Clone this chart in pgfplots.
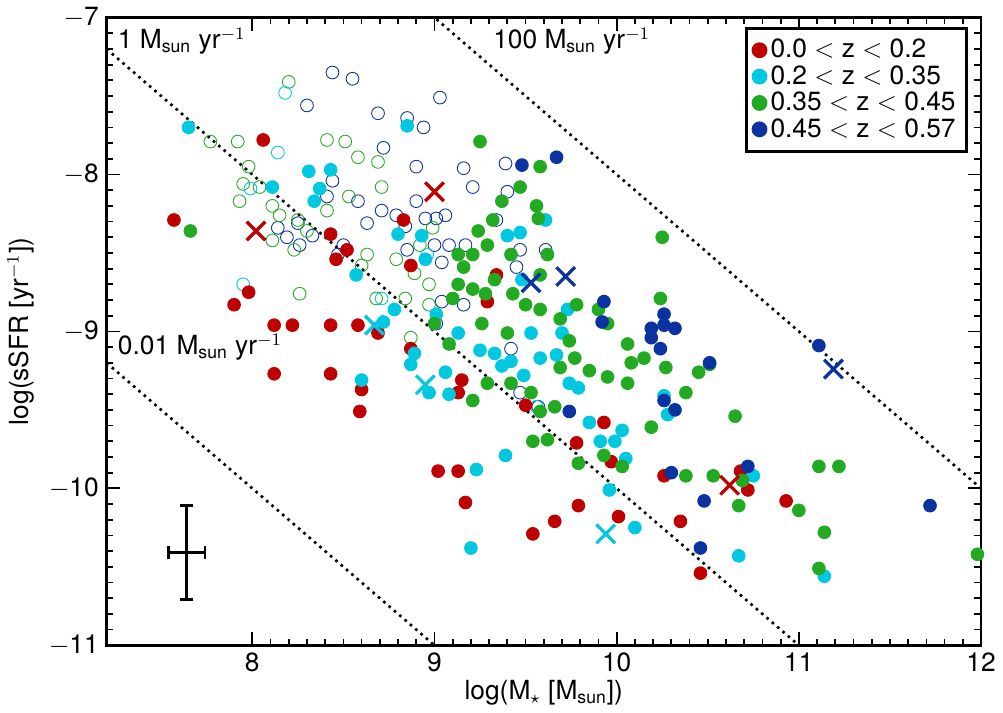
\documentclass[border=0pt]{standalone}
\usepackage{pgfplots}
\pgfplotsset{compat=1.18}
\usepackage{fontspec}
\setmainfont{TeX Gyre Heros}
\definecolor{cr}{RGB}{190,0,0}
\definecolor{cc}{RGB}{0,200,225}
\definecolor{cg}{RGB}{35,170,35}
\definecolor{cb}{RGB}{10,50,160}
\begin{document}
\begin{tikzpicture}
\begin{axis}[scale only axis, width=14cm, height=10.05cm,
 xmin=7.2, xmax=12, ymin=-11, ymax=-7,
 xtick={8,9,10,11,12}, ytick={-11,-10,-9,-8,-7},
 yticklabels={$-$11,$-$10,$-$9,$-$8,$-$7},
 minor x tick num=9, minor y tick num=9,
 tick align=inside, major tick length=6pt, minor tick length=3pt,
 axis line style={line width=1.2pt}, every tick/.style={black,line width=0.8pt},
 /pgf/number format/assume math mode=true,
 tick label style={font=\large}, label style={font=\large},
 xlabel={log(M$_\star$ [M$_{\mathrm{sun}}$])}, ylabel={log(sSFR [yr$^{-1}$])},
 xlabel style={yshift=3pt},
 clip=true,
 legend style={at={(0.985,0.985)}, anchor=north east, draw=black, line width=1.2pt, font=\large, row sep=-2pt, inner sep=3pt},
 legend cell align=left]
\addlegendimage{only marks, mark=*, cr, mark size=3pt}\addlegendentry{0.0 $<$ z $<$ 0.2}
\addlegendimage{only marks, mark=*, cc, mark size=3pt}\addlegendentry{0.2 $<$ z $<$ 0.35}
\addlegendimage{only marks, mark=*, cg, mark size=3pt}\addlegendentry{0.35 $<$ z $<$ 0.45}
\addlegendimage{only marks, mark=*, cb, mark size=3pt}\addlegendentry{0.45 $<$ z $<$ 0.57}
\addplot[dotted, line width=1.2pt, domain=7.2:12, samples=2, forget plot] {-x};
\addplot[dotted, line width=1.2pt, domain=7.2:12, samples=2, forget plot] {2-x};
\addplot[dotted, line width=1.2pt, domain=7.2:12, samples=2, forget plot] {-2-x};
% open circles
\addplot[only marks, mark=o, mark size=2.9pt, cb, forget plot] coordinates {
(8.44,-7.35)(8.55,-7.39)(8.30,-7.56)(8.69,-7.61)(8.85,-7.64)(9.03,-7.51)(8.94,-7.70)(8.90,-7.95)(8.72,-7.83)
(8.90,-8.17)(8.95,-8.28)(9.01,-8.28)(9.06,-8.26)(9.16,-7.96)(9.21,-8.08)(9.39,-7.93)(9.40,-8.11)(9.34,-8.29)
(9.47,-8.48)(9.45,-8.59)(9.00,-8.45)(9.08,-8.45)(9.04,-8.56)(9.17,-8.45)(8.58,-8.17)(8.44,-8.04)(8.41,-8.14)
(8.71,-8.23)(8.79,-8.26)(8.84,-8.33)(8.85,-8.48)(9.04,-8.81)(9.01,-8.95)(9.16,-8.83)(9.42,-9.11)(9.57,-9.48)
(9.47,-9.39)(8.25,-8.31)(8.33,-8.39)(8.26,-8.45)(8.19,-8.40)(8.47,-8.51)(8.50,-8.45)(8.63,-8.31)(9.61,-8.48)(8.14,-8.34)};
\addplot[only marks, mark=o, mark size=2.9pt, cg, forget plot] coordinates {
(8.20,-7.41)(7.77,-7.79)(7.92,-7.79)(7.98,-7.95)(7.95,-8.06)(7.93,-8.17)(8.04,-8.08)(8.11,-8.20)(8.15,-8.26)
(8.11,-8.42)(8.25,-8.29)(8.30,-8.36)(8.23,-8.48)(8.41,-7.78)(8.51,-7.79)(8.58,-7.89)(8.69,-7.92)(8.41,-8.23)
(8.53,-8.14)(8.71,-8.08)(8.60,-8.58)(8.63,-8.51)(8.79,-8.54)(8.89,-8.63)(8.92,-8.45)(8.84,-8.79)(8.97,-8.70)
(8.99,-8.34)(8.97,-8.83)(8.87,-9.04)(8.26,-8.76)(8.68,-8.79)};
\addplot[only marks, mark=o, mark size=2.9pt, cc, forget plot] coordinates {
(8.18,-7.48)(8.14,-7.86)(7.95,-8.70)(7.99,-8.09)(8.71,-8.79)(9.56,-9.48)(8.96,-8.51)};
% filled
\addplot[only marks, mark=*, mark size=2.9pt, cr, forget plot] coordinates {
(7.57,-8.29)(7.90,-8.83)(7.98,-8.75)(8.06,-7.78)(8.12,-8.96)(8.22,-8.96)(8.12,-9.27)(8.43,-9.27)(8.43,-8.96)
(8.58,-8.96)(8.46,-8.54)(8.43,-8.38)(8.52,-8.48)(8.60,-9.37)(8.59,-9.51)(8.69,-9.01)(8.87,-9.11)(8.83,-8.29)
(8.87,-8.58)(9.02,-9.89)(9.13,-9.89)(9.17,-10.09)(9.13,-9.39)(9.15,-9.31)(9.29,-8.81)(9.34,-8.64)(9.50,-9.47)
(9.54,-10.29)(9.66,-10.21)(9.79,-10.11)(9.78,-9.71)(9.93,-9.58)(9.97,-9.83)(10.01,-10.18)(10.26,-9.92)
(10.35,-10.21)(10.46,-10.54)(10.68,-9.89)(10.93,-10.08)(10.72,-10.01)};
\addplot[only marks, mark=*, mark size=2.9pt, cc, forget plot] coordinates {
(7.65,-7.70)(8.11,-8.08)(8.31,-7.98)(8.34,-8.17)(8.37,-8.09)(8.57,-8.64)(8.72,-8.94)(8.78,-8.86)(8.87,-9.21)
(8.89,-9.14)(8.97,-9.39)(9.06,-9.26)(9.08,-9.40)(9.13,-9.01)(9.25,-9.12)(9.33,-9.14)(9.37,-9.22)(9.42,-9.19)
(9.49,-9.28)(9.53,-9.01)(9.58,-9.17)(9.67,-9.15)(9.70,-9.01)(9.73,-8.86)(9.74,-9.33)(9.79,-9.36)(9.85,-9.58)
(9.91,-9.70)(9.96,-10.01)(9.99,-9.70)(10.03,-9.63)(10.10,-10.25)(10.05,-9.81)(10.26,-9.41)(10.28,-9.53)
(10.67,-10.43)(10.75,-9.92)(11.14,-10.56)(9.47,-8.37)(9.61,-8.29)(9.40,-8.39)(9.48,-8.67)(9.39,-9.79)
(9.23,-9.88)(8.95,-8.54)(9.01,-8.89)(8.80,-8.38)(8.93,-8.39)(8.60,-9.31)(9.20,-10.38)(8.85,-7.69)(8.43,-7.97)};
\addplot[only marks, mark=*, mark size=2.9pt, cg, forget plot] coordinates {
(7.66,-8.36)(9.25,-7.79)(9.37,-8.17)(9.47,-8.08)(9.58,-7.95)(9.56,-8.20)(9.57,-8.28)(9.24,-8.36)(9.32,-8.29)
(9.29,-8.45)(9.21,-8.51)(9.16,-8.59)(9.21,-8.73)(9.28,-8.76)(9.33,-8.67)(9.42,-8.51)(9.62,-8.51)(9.58,-8.64)
(9.43,-8.76)(9.50,-8.83)(9.58,-8.86)(9.69,-8.92)(9.74,-9.06)(9.78,-8.83)(9.90,-8.86)(9.95,-8.95)(10.08,-9.20)
(9.69,-9.23)(9.77,-9.17)(9.85,-9.25)(9.95,-9.29)(10.06,-9.33)(10.15,-9.17)(10.27,-9.23)(10.38,-9.39)
(10.45,-9.26)(10.51,-9.21)(10.65,-9.54)(10.67,-10.11)(10.38,-9.92)(10.53,-9.92)(10.69,-9.95)(9.93,-9.79)
(9.79,-9.84)(9.62,-9.69)(9.54,-9.70)(10.03,-9.86)(10.19,-9.61)(9.58,-9.51)(10.06,-9.08)(10.24,-8.79)
(10.25,-8.40)(9.13,-8.51)(9.10,-8.79)(9.00,-8.95)(9.08,-9.08)(9.26,-8.95)(9.13,-8.70)(9.40,-9.01)(9.66,-9.48)
(9.53,-9.39)(9.42,-9.33)(9.29,-9.33)(9.21,-9.44)(11.14,-10.28)(11.11,-9.86)(11.00,-10.14)(11.11,-10.51)
(11.22,-9.86)(11.98,-10.42)};
\addplot[only marks, mark=*, mark size=2.9pt, cb, forget plot] coordinates {
(9.48,-7.94)(9.67,-7.89)(9.93,-8.81)(9.92,-8.94)(10.19,-8.98)(10.19,-9.04)(10.26,-8.89)(10.26,-8.96)
(10.32,-8.98)(10.24,-9.11)(10.51,-9.20)(10.26,-9.44)(10.32,-9.50)(10.30,-9.90)(10.48,-10.08)(10.46,-10.38)
(10.72,-9.86)(11.11,-9.09)(11.72,-10.11)(9.74,-9.51)};
% crosses
\addplot[only marks, mark=x, mark size=6pt, line width=1.5pt, cr, forget plot] coordinates {(8.02,-8.36)(9.00,-8.11)(10.62,-9.98)};
\addplot[only marks, mark=x, mark size=6pt, line width=1.5pt, cc, forget plot] coordinates {(8.67,-8.96)(8.95,-9.34)(9.94,-10.29)};
\addplot[only marks, mark=x, mark size=6pt, line width=1.5pt, cb, forget plot] coordinates {(9.53,-8.69)(9.72,-8.65)(11.19,-9.24)};
% error bar
\addplot[black, line width=1.2pt, mark=none, forget plot,
  error bars/.cd, x dir=both, y dir=both, x explicit, y explicit, error bar style={line width=1.2pt}, error mark options={rotate=90, mark size=3pt, line width=1.2pt}]
  coordinates {(7.64,-10.41) +- (0.1,0.3)};
\node[anchor=west, font=\large] at (axis cs:7.22,-7.15) {1 M$_{\mathrm{sun}}$ yr$^{-1}$};
\node[anchor=west, font=\large] at (axis cs:9.28,-7.15) {100 M$_{\mathrm{sun}}$ yr$^{-1}$};
\node[anchor=west, font=\large] at (axis cs:7.22,-9.1) {0.01 M$_{\mathrm{sun}}$ yr$^{-1}$};
\end{axis}
\end{tikzpicture}
\end{document}
